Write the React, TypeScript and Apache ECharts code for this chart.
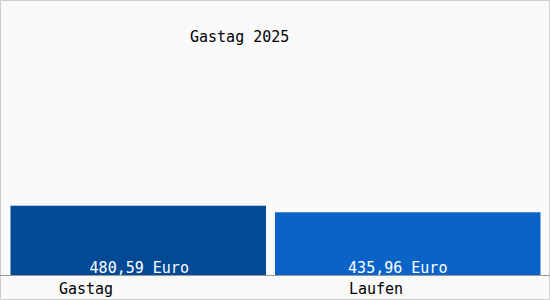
import React, { useEffect, useRef } from "react";
import * as echarts from "echarts";

const titleText = "Gastag 2025";
const categories = ["Gastag", "Laufen"];
const values = [480.59, 435.96];
const valueLabels = ["480,59 Euro", "435,96 Euro"];
const barColors = ["#024a96", "#0a64c8"];

export default function App() {
  const ref = useRef<HTMLDivElement>(null);
  useEffect(() => {
    if (!ref.current) return;
    const chart = echarts.init(ref.current, null, { renderer: "svg" });
    const font = "'DejaVu Sans Mono', monospace";
    const mkLabel = (i: number) => ({
      show: true,
      position: "insideBottom",
      distance: 0,
      offset: i === 0 ? [1, 0] : [-10, 0],
      formatter: () => valueLabels[i],
      fontFamily: font,
      fontSize: 15,
      color: "#fff",
    });
    chart.setOption({
      animation: false,
      backgroundColor: "#fafafa",
      title: {
        text: titleText,
        left: 190,
        top: 29,
        padding: 0,
        textStyle: { fontFamily: font, fontSize: 15, fontWeight: "normal", color: "#000" },
      },
      graphic: [
        {
          type: "rect",
          shape: { x: 0.5, y: 0.5, width: 549, height: 299 },
          style: { fill: "none", stroke: "#cfcfcf", lineWidth: 1 },
          silent: true,
        },
        {
          type: "line",
          shape: { x1: 0, y1: 275.5, x2: 550, y2: 275.5 },
          style: { stroke: "#999", lineWidth: 1 },
          silent: true,
          z: 10,
        },
      ],
      grid: { left: 10.5, right: 9.5, top: 30, bottom: 25, containLabel: false },
      xAxis: {
        type: "category",
        data: categories.map((c, i) => ({
          value: c,
          textStyle: { padding: i === 0 ? [0, 114, 0, 0] : [0, 64, 0, 0] },
        })),
        axisLine: { show: false },
        axisTick: { show: false },
        axisLabel: { fontFamily: font, fontSize: 15, color: "#000", margin: 6, interval: 0 },
      },
      yAxis: { type: "value", min: 0, max: 1700, show: false, splitLine: { show: false } },
      series: [
        {
          type: "bar",
          barWidth: 256,
          barGap: "-100%",
          data: values.map((v, i) =>
            i === 0 ? { value: v, itemStyle: { color: barColors[i] }, label: mkLabel(i) } : "-"
          ),
        },
        {
          type: "bar",
          barWidth: 266,
          barGap: "-100%",
          data: values.map((v, i) =>
            i === 1 ? { value: v, itemStyle: { color: barColors[i] }, label: mkLabel(i) } : "-"
          ),
        },
      ],
    });
    return () => chart.dispose();
  }, []);
  return <div ref={ref} style={{ position: "fixed", left: 0, top: 0, width: 550, height: 300 }} />;
}
